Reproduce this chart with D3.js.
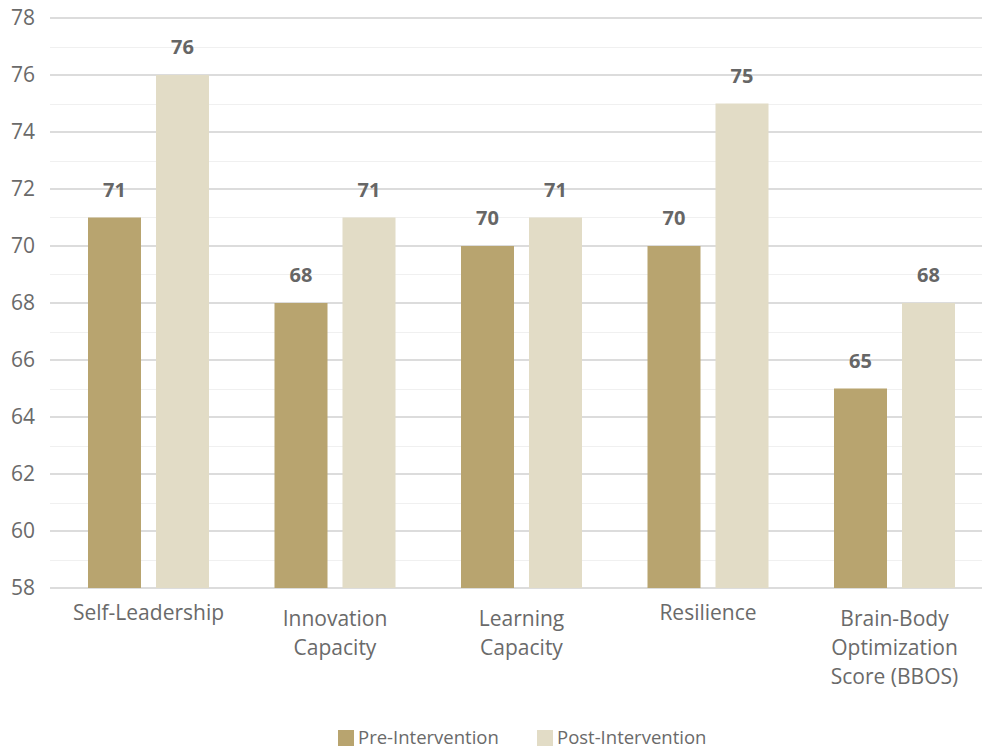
<!DOCTYPE html>
<html>
<head>
<meta charset="utf-8">
<script src="https://cdn.jsdelivr.net/npm/d3@7"></script>
<style>
  html, body { margin: 0; padding: 0; background: #fff; }
  svg { display: block; font-family: "Open Sans", "Noto Sans", sans-serif; }
</style>
</head>
<body>
<svg id="chart" width="982" height="749"></svg>
<script>
// Assessment scores before and after the intervention
const categories = [
  ["Self-Leadership"],
  ["Innovation", "Capacity"],
  ["Learning", "Capacity"],
  ["Resilience"],
  ["Brain-Body", "Optimization", "Score (BBOS)"]
];
const seriesNames = ["Pre-Intervention", "Post-Intervention"];
const preValues  = [71, 68, 70, 70, 65];
const postValues = [76, 71, 71, 75, 68];
const yTicks = [58, 60, 62, 64, 66, 68, 70, 72, 74, 76, 78];
const yMinorTicks = [59, 61, 63, 65, 67, 69, 71, 73, 75, 77];
const colors = ["#b8a46f", "#e2dcc6"];

const svg = d3.select("#chart");
const W = 982;

const y = d3.scaleLinear().domain([58, 78]).range([588, 18]);
const x0 = d3.scaleBand()
  .domain(d3.range(categories.length))
  .range([55.25, 987.75])
  .paddingInner(0).paddingOuter(0);
// two bars of 53px with a 15px gap, centred in each band
const pairW = 121;
const x1 = d3.scaleBand()
  .domain([0, 1])
  .range([x0.bandwidth() / 2 - pairW / 2, x0.bandwidth() / 2 + pairW / 2])
  .paddingInner(15 / 68)
  .paddingOuter(0);

// minor grid
svg.append("g").selectAll("line").data(yMinorTicks).join("line")
  .attr("x1", 50).attr("x2", W)
  .attr("y1", d => Math.round(y(d)) + 0.5).attr("y2", d => Math.round(y(d)) + 0.5)
  .attr("stroke", "#f0f0f0").attr("stroke-width", 1);

// major grid
svg.append("g").selectAll("line").data(yTicks).join("line")
  .attr("x1", 50).attr("x2", W)
  .attr("y1", d => y(d)).attr("y2", d => y(d))
  .attr("stroke", "#dcdcdc").attr("stroke-width", 2);

// y axis labels
const yAxis = d3.axisLeft(y).tickValues(yTicks).tickSize(0).tickPadding(0);
const ya = svg.append("g").attr("transform", "translate(35,0)").call(yAxis);
ya.select(".domain").remove();
ya.selectAll("text")
  .attr("font-size", 21).attr("fill", "#6a6a6a")
  .attr("font-family", "'Open Sans', sans-serif");

// bars, value labels and category labels
const groups = svg.append("g").selectAll("g").data(categories).join("g")
  .attr("transform", (d, i) => `translate(${x0(i)},0)`);

groups.each(function(c, i) {
  const vals = [preValues[i], postValues[i]];
  const g = d3.select(this);
  g.selectAll("rect").data(vals).join("rect")
    .attr("x", (d, j) => x1(j))
    .attr("width", x1.bandwidth())
    .attr("y", d => y(d))
    .attr("height", d => y(58) - y(d))
    .attr("fill", (d, j) => colors[j]);
  g.selectAll("text.val").data(vals).join("text")
    .attr("class", "val")
    .attr("x", (d, j) => x1(j) + x1.bandwidth() / 2)
    .attr("y", d => y(d) - 28)
    .attr("dy", "0.35em")
    .attr("text-anchor", "middle")
    .attr("font-size", 20).attr("font-weight", 700).attr("fill", "#666")
    .text(d => d);
  const startY = c.length === 1 ? 613 : 619;
  g.append("text")
    .attr("text-anchor", "middle")
    .attr("font-size", 21).attr("fill", "#6a6a6a")
    .selectAll("tspan").data(c).join("tspan")
    .attr("x", x0.bandwidth() / 2)
    .attr("y", (d, k) => startY + k * 29)
    .attr("dy", "0.35em")
    .text(d => d);
});

// legend
const legendX = [338, 537];
const lg = svg.append("g").selectAll("g").data(seriesNames).join("g")
  .attr("transform", (d, i) => `translate(${legendX[i]},730)`);
lg.append("rect").attr("width", 16).attr("height", 16).attr("fill", (d, i) => colors[i]);
lg.append("text")
  .attr("x", 20).attr("y", 8).attr("dy", "0.35em")
  .attr("font-size", 18.5).attr("fill", "#6a6a6a")
  .text(d => d);
</script>
</body>
</html>
